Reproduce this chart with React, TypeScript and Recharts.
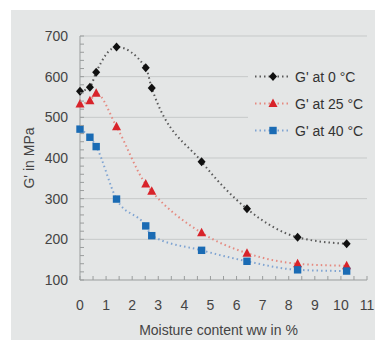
import { LineChart, Line, XAxis, YAxis, ReferenceLine, Legend, Label } from 'recharts'

// moisture content (ww, %) and storage modulus G' (MPa)
const moisture = [0, 0.38, 0.62, 1.4, 2.52, 2.75, 4.66, 6.4, 8.34, 10.22]
const g0 = [564, 574, 611, 673, 622, 572, 391, 275, 205, 189]
const g25 = [533, 541, 559, 477, 336, 318, 216, 166, 140, 135]
const g40 = [471, 451, 428, 299, 233, 209, 173, 146, 125, 122]

const gridLines = [200, 300, 400, 500, 600, 700]
const xTicks: number[] = []
for (let i = 0; i <= 22; i++) xTicks.push(i / 2)
const yTicks: number[] = []
for (let v = 100; v <= 700; v += 20) yTicks.push(v)

const FONT = '"Liberation Sans", Arial, sans-serif'
const BG = '#e4e6e6'
const AXIS = '#9a9d9d'
const TEXT = '#444'

type Shape = 'diamond' | 'triangle' | 'square'

const SERIES: { key: string; name: string; line: string; fill: string; shape: Shape }[] = [
  { key: 'g0', name: "G' at 0 °C", line: '#5a5a5a', fill: '#111', shape: 'diamond' },
  { key: 'g25', name: "G' at 25 °C", line: '#e58a80', fill: '#d8232a', shape: 'triangle' },
  { key: 'g40', name: "G' at 40 °C", line: '#7fa4d2', fill: '#1a6bb4', shape: 'square' },
]

const data = moisture.map((m, i) => ({ m, g0: g0[i], g25: g25[i], g40: g40[i] }))

function Marker({ cx, cy, shape, fill }: { cx: number; cy: number; shape: Shape; fill: string }) {
  if (shape === 'diamond') {
    return <polygon points={`${cx},${cy - 4.5} ${cx + 4},${cy} ${cx},${cy + 4.5} ${cx - 4},${cy}`} fill={fill} />
  }
  if (shape === 'triangle') {
    return <polygon points={`${cx},${cy - 5} ${cx + 4.5},${cy + 3.5} ${cx - 4.5},${cy + 3.5}`} fill={fill} />
  }
  return <rect x={cx - 3.7} y={cy - 3.7} width={7.4} height={7.4} fill={fill} />
}

function XTick({ x, y, payload }: any) {
  const v = payload.value
  return (
    <g>
      <line x1={x} x2={x} y1={y} y2={y - 4} stroke={AXIS} />
      {Number.isInteger(v) && (
        <text x={x} y={y + 30} textAnchor="middle" fill={TEXT} fontSize={14} fontFamily={FONT}>
          {v}
        </text>
      )}
    </g>
  )
}

function YTick({ x, y, payload }: any) {
  const v = payload.value
  return (
    <g>
      <line x1={x} x2={x + 4} y1={y} y2={y} stroke={AXIS} />
      {v % 100 === 0 && (
        <text x={x - 12} y={y + 5} textAnchor="end" fill={TEXT} fontSize={14} fontFamily={FONT}>
          {v}
        </text>
      )}
    </g>
  )
}

function LegendBox() {
  return (
    <div style={{ background: BG }}>
      {SERIES.map(s => (
        <div key={s.key} style={{ display: 'flex', alignItems: 'center', height: 27 }}>
          <svg width={46} height={27}>
            <line x1={7} x2={42} y1={13.5} y2={13.5} stroke={s.line} strokeWidth={2}
              strokeDasharray="1.5 3" />
            <Marker cx={25} cy={13.5} shape={s.shape} fill={s.fill} />
          </svg>
          <span style={{ fontFamily: FONT, fontSize: 14, color: '#333', marginLeft: 1 }}>{s.name}</span>
        </div>
      ))}
    </div>
  )
}

export default function App() {
  return (
    <div style={{ position: 'fixed', left: 0, top: 0, width: 375, height: 340, background: '#fff' }}>
      <div style={{ position: 'absolute', left: 11, top: 10, width: 364, height: 330, background: BG }}>
        <LineChart width={364} height={330} data={data}
          margin={{ top: 26, right: 8, bottom: 0, left: 0 }}>
          {gridLines.map(v => (
            <ReferenceLine key={v} y={v} stroke="#c6c9c9" strokeWidth={1} />
          ))}
          <XAxis dataKey="m" type="number" domain={[0, 11]} ticks={xTicks} interval={0}
            height={60} tickSize={0} tickMargin={0} tick={<XTick />} stroke={AXIS}>
            <Label value="Moisture content ww in %" position="insideBottom" offset={5}
              fill={TEXT} fontSize={14} fontFamily={FONT} dx={-5} />
          </XAxis>
          <YAxis type="number" domain={[100, 700]} ticks={yTicks} interval={0}
            width={69} tickSize={0} tickMargin={0} tick={<YTick />} stroke={AXIS}>
            <Label value="G' in MPa" angle={-90} position="insideLeft" offset={18}
              fill={TEXT} fontSize={14} fontFamily={FONT} style={{ textAnchor: 'middle' }} />
          </YAxis>
          <Legend layout="vertical" align="center" verticalAlign="middle"
            content={() => <LegendBox />}
            wrapperStyle={{ left: 237, top: 53, width: 125 }} />
          {SERIES.map(s => (
            <Line key={s.key} type="monotone" dataKey={s.key} name={s.name}
              stroke={s.line} strokeWidth={2} strokeDasharray="1.5 3"
              dot={(p: any) => <Marker key={`${s.key}-${p.index}`} cx={p.cx} cy={p.cy} shape={s.shape} fill={s.fill} />}
              activeDot={false} isAnimationActive={false} />
          ))}
        </LineChart>
      </div>
    </div>
  )
}
